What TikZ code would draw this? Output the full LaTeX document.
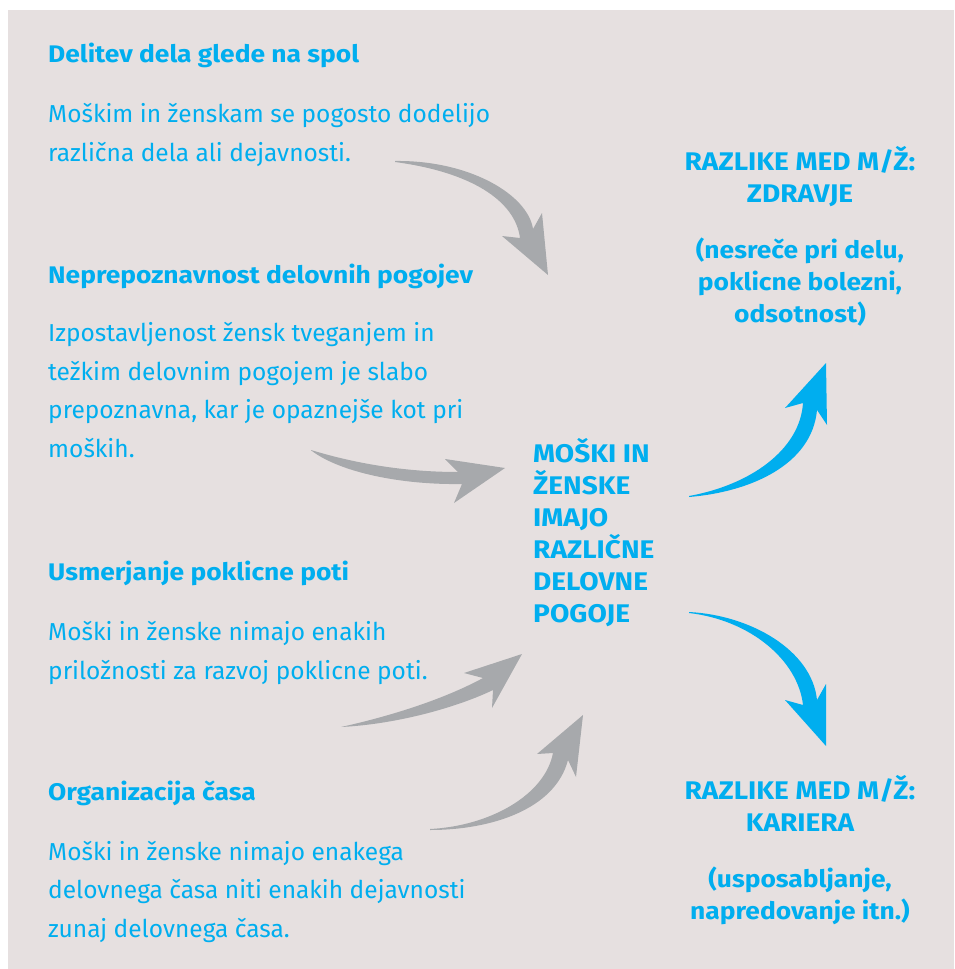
\documentclass[tikz,border=0pt]{standalone}
\usepackage{fontspec}
\setmainfont{Fira Sans}[BoldFeatures={FakeStretch=1.1}]
\definecolor{panel}{HTML}{E6E0E0}
\definecolor{cyantext}{HTML}{00AEEF}
\definecolor{arrowgray}{HTML}{A7A9AC}
\begin{document}
\begin{tikzpicture}[x=1pt,y=-1pt,
  head/.style={anchor=base west,inner sep=0pt,text=cyantext,
    font=\fontsize{24}{29}\selectfont\bfseries},
  body/.style={anchor=base west,inner sep=0pt,text=cyantext,align=left,
    font=\fontsize{24.5}{38.5}\selectfont},
  focus/.style={anchor=base west,inner sep=0pt,text=cyantext,align=left,
    font=\fontsize{25.5}{32}\selectfont\bfseries},
  result/.style={anchor=base,inner sep=0pt,text=cyantext,align=center,
    font=\fontsize{25.5}{32}\selectfont\bfseries},
  note/.style={result,font=\fontsize{24}{32}\selectfont\bfseries},
  grayarrow/.style={fill=arrowgray,draw=none},
  bluearrow/.style={fill=cyantext,draw=none}]

\useasboundingbox (0,0) rectangle (954,969);
\fill[white] (0,0) rectangle (954,969);
\fill[panel] (8,10) rectangle (954,969);

% Left column: four causes (multi-line nodes sit on their last baseline).
\node[head] (h1) at (48,62) {Delitev dela glede na spol};
\node[body] (b1) at (48,161)
  {Moškim in ženskam se pogosto dodelijo\\različna dela ali dejavnosti.};
\node[head] (h2) at (48,283) {Neprepoznavnost delovnih pogojev};
\node[body] (b2) at (48,457)
  {Izpostavljenost žensk tveganjem in\\težkim delovnim pogojem je slabo\\
   prepoznavna, kar je opaznejše kot pri\\moških.};
\node[head] (h3) at (48,580) {Usmerjanje poklicne poti};
\node[body] (b3) at (48,679)
  {Moški in ženske nimajo enakih\\priložnosti za razvoj poklicne poti.};
\node[head] (h4) at (48,800) {Organizacija časa};
\node[body] (b4) at (48,937)
  {Moški in ženske nimajo enakega\\delovnega časa niti enakih dejavnosti\\
   zunaj delovnega časa.};

% Middle statement.
\node[focus] (mid) at (533,622)
  {MOŠKI IN\\ŽENSKE\\IMAJO\\RAZLIČNE\\DELOVNE\\POGOJE};

% Right column: consequences.
\node[result] (r1) at (800,202) {RAZLIKE MED M/Ž:\\ZDRAVJE};
\node[note] (r1x) at (800,322)
  {(nesreče pri delu,\\poklicne bolezni,\\odsotnost)};
\node[result] (r2) at (800,831) {RAZLIKE MED M/Ž:\\KARIERA};
\node[note] (r2x) at (800,919) {(usposabljanje,\\napredovanje itn.)};

% Tapered arrows: tail -> outer edge -> barb -> tip -> barb -> inner edge.
\fill[grayarrow] (395,161) .. controls (470,160) and (528,195) .. (533,229)
  -- (542,213) -- (548,275) -- (502,236) -- (520,238)
  .. controls (515,200) and (470,172) .. (395,162) -- cycle;
\fill[grayarrow] (311,450) .. controls (360,465) and (410,472) .. (458,472)
  -- (445,459) -- (505,468) -- (454,503) -- (462,484)
  .. controls (400,485) and (340,472) .. (312,451) -- cycle;
\fill[grayarrow] (341,727) .. controls (400,714) and (450,696) .. (483,678)
  -- (464,673) -- (522,654) -- (492,708) -- (493,690)
  .. controls (460,706) and (400,724) .. (341,727) -- cycle;
\fill[grayarrow] (430,829) .. controls (490,826) and (545,795) .. (553,753)
  -- (537,754) -- (583,715) -- (576,777) -- (568,760)
  .. controls (555,810) and (490,830) .. (430,830) -- cycle;
\fill[bluearrow] (689,496) .. controls (750,485) and (800,450) .. (803,403)
  -- (785,408) -- (826,363) -- (827,425) -- (817,410)
  .. controls (812,465) and (750,492) .. (689,497) -- cycle;
\fill[bluearrow] (689,612) .. controls (750,615) and (812,650) .. (817,700)
  -- (826,684) -- (826,746) -- (785,700) -- (803,705)
  .. controls (798,660) and (750,620) .. (689,613) -- cycle;
\end{tikzpicture}
\end{document}
